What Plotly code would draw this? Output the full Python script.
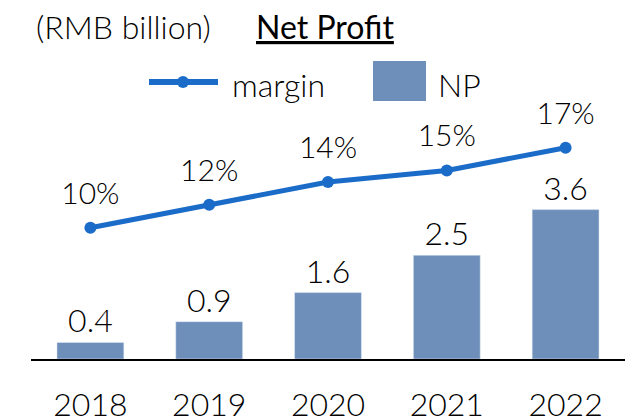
import plotly.graph_objects as go

years = ["2018", "2019", "2020", "2021", "2022"]
np_values = [0.4, 0.9, 1.6, 2.5, 3.6]
np_labels = ["0.4", "0.9", "1.6", "2.5", "3.6"]
margin_values = [0.10, 0.12, 0.14, 0.15, 0.17]
margin_labels = ["10%", "12%", "14%", "15%", "17%"]

BAR_COLOR = "#6F8FBB"
LINE_COLOR = "#1B6CC8"
FONT = "Lato"
TXT = "#000000"
W, H = 625, 418
L, R, T, B = 31, 0, 50, 59

def px(x):
    return (x - L) / (W - L - R)

def py(y):
    return (H - B - y) / (H - T - B)

fig = go.Figure()
fig.add_trace(go.Bar(
    x=years, y=np_values, name="NP", marker_color=BAR_COLOR,
    text=np_labels, textposition="outside", cliponaxis=False,
    textfont=dict(size=32, color=TXT, family=FONT, weight=300),
))
fig.add_trace(go.Scatter(
    x=years, y=margin_values, name="margin", yaxis="y2",
    mode="lines+markers",
    line=dict(color=LINE_COLOR, width=5), marker=dict(size=12, color=LINE_COLOR),
    cliponaxis=False,
))
fig.add_trace(go.Scatter(
    x=years, y=margin_values, name="margin labels", yaxis="y2",
    mode="markers+text", text=margin_labels, textposition="top center",
    marker=dict(size=25, color="rgba(0,0,0,0)"),
    textfont=dict(size=30, color=TXT, family=FONT, weight=300), cliponaxis=False,
    hoverinfo="skip",
))

shapes = [
    dict(type="line", xref="paper", yref="paper", x0=px(149), x1=px(218), y0=py(82), y1=py(82),
         line=dict(color=LINE_COLOR, width=6)),
    dict(type="circle", xref="paper", yref="paper", x0=px(177), x1=px(189), y0=py(76), y1=py(88),
         fillcolor=LINE_COLOR, line=dict(color=LINE_COLOR, width=0)),
    dict(type="rect", xref="paper", yref="paper", x0=px(373), x1=px(426), y0=py(61), y1=py(101),
         fillcolor=BAR_COLOR, line=dict(width=0)),
]
annotations = [
    dict(text="(RMB billion)", x=px(34), y=py(26), xref="paper", yref="paper", xanchor="left",
         yanchor="middle", showarrow=False, font=dict(size=32, family=FONT, color=TXT, weight=300)),
    dict(text="<u>Net Profit</u>", x=px(254), y=py(26), xref="paper", yref="paper", xanchor="left",
         yanchor="middle", showarrow=False, font=dict(size=32, family=FONT, color=TXT, weight=400)),
    dict(text="margin", x=px(230), y=py(84), xref="paper", yref="paper", xanchor="left",
         yanchor="middle", showarrow=False, font=dict(size=32, family=FONT, color=TXT, weight=300)),
    dict(text="NP", x=px(436), y=py(84), xref="paper", yref="paper", xanchor="left",
         yanchor="middle", showarrow=False, font=dict(size=32, family=FONT, color=TXT, weight=300)),
]

fig.update_layout(
    width=W, height=H, margin=dict(l=L, r=R, t=T, b=B, autoexpand=False),
    paper_bgcolor="white", plot_bgcolor="white",
    showlegend=False, bargap=0.437,
    font=dict(family=FONT, size=32, color=TXT),
    xaxis=dict(showline=True, linecolor="black", linewidth=2, ticks="outside", ticklen=17,
               tickcolor="rgba(0,0,0,0)", tickfont=dict(size=32, family=FONT, color=TXT, weight=300),
               range=[-0.5, 4.5], showgrid=False, automargin=False),
    yaxis=dict(range=[0, 7.446], visible=False, showgrid=False, automargin=False),
    yaxis2=dict(range=[-0.01487, 0.2555], overlaying="y", side="right", visible=False,
                showgrid=False, automargin=False),
    shapes=shapes, annotations=annotations,
)

fig.write_html("out.html", config={"displayModeBar": False},
               post_script="document.body.style.margin='0';document.body.style.overflow='hidden';")
